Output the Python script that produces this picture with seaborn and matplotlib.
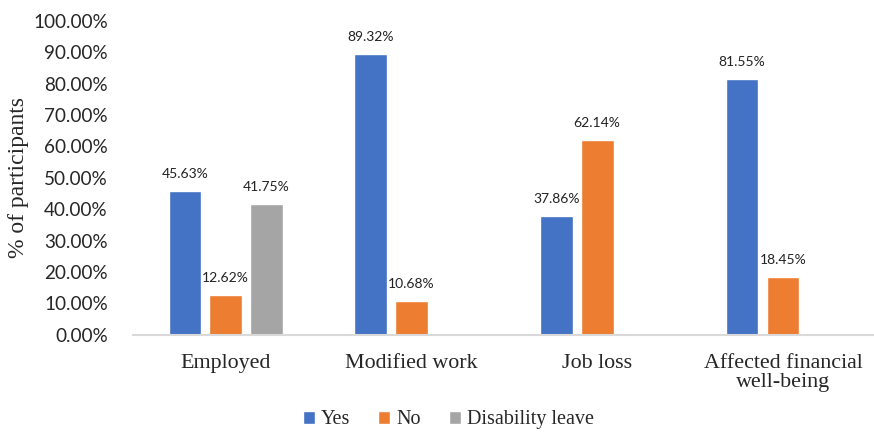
import matplotlib
matplotlib.use("Agg")
import matplotlib.pyplot as plt
import seaborn as sns
import pandas as pd
from matplotlib.ticker import FuncFormatter
from matplotlib.patches import Patch

categories = ["Employed", "Modified work", "Job loss", "Affected financial\nwell-being"]
series = ["Yes", "No", "Disability leave"]
yes_vals = [45.63, 89.32, 37.86, 81.55]
no_vals = [12.62, 10.68, 62.14, 18.45]
dis_vals = [41.75, None, None, None]
colors = ["#4472C4", "#ED7D31", "#A5A5A5"]

rows = []
for name, vals in zip(series, [yes_vals, no_vals, dis_vals]):
    for c, v in zip(categories, vals):
        if v is not None:
            rows.append({"Category": c, "Response": name, "Value": v})
df = pd.DataFrame(rows)

sns.set_theme(style="white")
serif = ["Liberation Serif", "DejaVu Serif"]
sans = ["Lato", "DejaVu Sans"]

fig = plt.figure(figsize=(8.74, 4.32), dpi=100)
ax = fig.add_axes([0.152, 0.225, 0.85, 0.727])

sns.barplot(data=df, x="Category", y="Value", hue="Response", order=categories,
            hue_order=series, palette=colors, width=0.66, gap=0.2,
            saturation=1, ax=ax, legend=False, errorbar=None)

for cont in ax.containers:
    ax.bar_label(cont, labels=[f"{b.get_height():.2f}%" for b in cont],
                 padding=8, fontsize=10, family=sans, color="#222222")

ax.set_ylim(0, 100)
ax.set_xlim(-0.5, 3.5)
ax.set_yticks(range(0, 101, 10))
ax.yaxis.set_major_formatter(FuncFormatter(lambda v, p: f"{v:.2f}%"))
for lab in ax.get_yticklabels():
    lab.set_family(sans)
    lab.set_fontsize(13.6)
ax.tick_params(axis="y", length=0, pad=18)
ax.tick_params(axis="x", length=0, pad=14)
for lab in ax.get_xticklabels():
    lab.set_family(serif)
    lab.set_fontsize(15.8)
    lab.set_linespacing(1.0)
ax.set_xlabel("")
ax.set_ylabel("% of participants", family=serif, fontsize=17)
ax.yaxis.set_label_coords(-0.14, 0.5)
for s in ["top", "right", "left"]:
    ax.spines[s].set_visible(False)
ax.spines["bottom"].set_color("#D9D9D9")
ax.spines["bottom"].set_linewidth(1.5)

handles = [Patch(facecolor=c, label=s) for c, s in zip(colors, series)]
fig.legend(handles=handles, loc="center", bbox_to_anchor=(0.513, 0.028), ncol=3,
           frameon=False, prop={"family": serif, "size": 14.5},
           handlelength=0.6, handleheight=0.6, handletextpad=0.3, columnspacing=1.4,
           borderpad=0.1)

fig.savefig("out.png", dpi=100)
